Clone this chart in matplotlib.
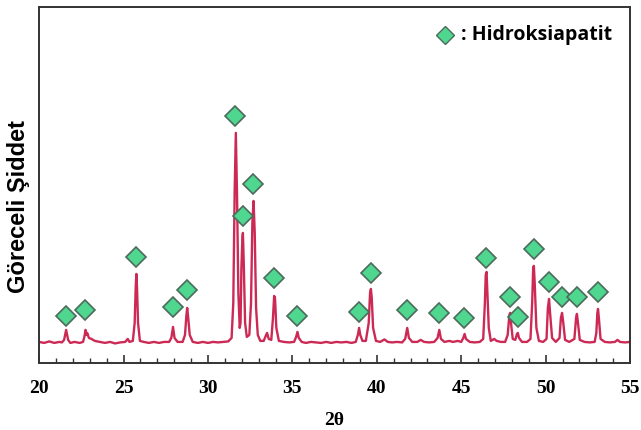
import numpy as np
import matplotlib
matplotlib.use('Agg')
import matplotlib.pyplot as plt
from matplotlib.ticker import MultipleLocator

# measured XRD trace (2theta, relative intensity)
two_theta = [
    20.0, 20.3, 20.6, 20.9, 21.2, 21.35, 21.48, 21.55, 21.6, 21.65, 21.72, 21.85,
    22.1, 22.4, 22.6, 22.68, 22.75, 22.8, 22.85, 22.95, 23.1, 23.3, 23.6, 23.9,
    24.2, 24.5, 24.8, 25.1, 25.25, 25.35, 25.55, 25.66, 25.72, 25.76, 25.8, 25.86,
    25.97, 26.2, 26.5, 26.8, 27.1, 27.4, 27.7, 27.83, 27.93, 28.02, 28.2, 28.5,
    28.64, 28.72, 28.77, 28.82, 28.92, 29.1, 29.4, 29.7, 30.0, 30.3, 30.6, 30.9,
    31.2, 31.4, 31.5, 31.58, 31.65, 31.72, 31.8, 31.88, 31.93, 31.98, 32.04, 32.07,
    32.12, 32.2, 32.3, 32.45, 32.55, 32.63, 32.7, 32.77, 32.85, 32.95, 33.1, 33.3,
    33.42, 33.5, 33.6, 33.75, 33.85, 33.92, 33.97, 34.05, 34.2, 34.5, 34.8, 35.1,
    35.22, 35.3, 35.38, 35.55, 35.8, 36.1, 36.4, 36.7, 37.0, 37.3, 37.6, 37.9,
    38.2, 38.5, 38.75, 38.88, 38.95, 39.02, 39.15, 39.35, 39.52, 39.6, 39.65, 39.7,
    39.78, 39.95, 40.2, 40.45, 40.65, 40.9, 41.2, 41.5, 41.68, 41.8, 41.9, 42.1,
    42.4, 42.6, 42.8, 43.1, 43.4, 43.6, 43.7, 43.8, 44.0, 44.3, 44.5, 44.8,
    45.0, 45.12, 45.2, 45.28, 45.5, 45.8, 46.1, 46.3, 46.4, 46.45, 46.5, 46.55,
    46.63, 46.75, 46.95, 47.1, 47.35, 47.6, 47.75, 47.85, 47.9, 47.96, 48.05, 48.2,
    48.3, 48.35, 48.42, 48.6, 48.9, 49.1, 49.2, 49.26, 49.3, 49.35, 49.45, 49.6,
    49.85, 50.05, 50.13, 50.2, 50.26, 50.38, 50.6, 50.82, 50.9, 50.97, 51.03, 51.15,
    51.4, 51.7, 51.8, 51.85, 51.9, 52.02, 52.3, 52.6, 52.9, 53.0, 53.06, 53.1,
    53.15, 53.25, 53.5, 53.8, 54.1, 54.25, 54.4, 54.7, 55.0,
]
intensity = [
    21, 20, 21.5, 20, 21, 20.5, 23, 29, 33, 29, 23, 20,
    21, 20, 21, 26, 33, 28, 30, 25, 24, 22, 21, 20,
    21, 19.5, 20.5, 21, 24, 21, 22, 40, 75, 89, 75, 40,
    22, 21, 20, 21, 20, 21, 21, 25, 36, 25, 21, 21,
    28, 47, 55, 47, 28, 21, 20, 21, 20, 21, 20.5, 21,
    21.5, 25, 60, 170, 230, 170, 70, 35, 40, 95, 125, 130,
    100, 40, 26, 28, 60, 140, 162, 130, 55, 28, 22, 22,
    27, 30, 24, 23, 45, 67, 65, 35, 22, 21, 20.5, 21,
    26, 31, 25, 21, 20, 21, 20.5, 20, 21, 20, 21, 20.5,
    21, 20, 21, 28, 35, 28, 22, 22, 40, 70, 74, 65,
    35, 22, 21, 23.5, 21, 20.5, 21, 20.5, 24, 35, 25, 21,
    21, 23, 21, 20.5, 21, 25, 33, 24, 21, 22, 21, 22,
    21, 25, 29, 24, 21, 20.5, 21, 24, 60, 88, 91, 70,
    35, 22, 24, 22, 21, 21, 28, 48, 50, 38, 24, 23,
    29, 30, 25, 21, 21, 24, 60, 95, 97, 80, 35, 22,
    21, 24, 55, 64, 50, 25, 21, 25, 45, 50, 42, 23,
    21, 24, 45, 49, 42, 23, 21, 20.5, 21, 30, 50, 54,
    45, 24, 21, 20.5, 21, 23, 21, 20.5, 21,
]

# hydroxyapatite reflections (marker positions)
ha_pos = [21.6, 22.72, 25.74, 27.93, 28.76, 31.6, 32.07, 32.66, 33.9, 35.27,
          38.93, 39.65, 41.77, 43.67, 45.15, 46.45, 47.87, 48.34, 49.3, 50.18,
          50.95, 51.83, 53.08]
ha_mark = [47, 53, 106, 56, 73, 247, 147, 179, 85, 47,
           51, 90, 53, 50, 45, 105, 66, 46, 114, 81,
           66, 66, 71]

line_col = '#cc2a55'
mark_face = '#4fd68f'
mark_edge = '#4d6b5c'

fig = plt.figure(figsize=(6.41, 4.30), dpi=100)
ax = fig.add_axes([0.061, 0.156, 0.922, 0.828])

ax.plot(two_theta, intensity, color=line_col, lw=1.7, solid_joinstyle='round')
ax.plot(ha_pos, ha_mark, ls='none', marker='D', ms=10.5,
        mfc=mark_face, mec=mark_edge, mew=1.2)

ax.set_xlim(20, 55)
ax.set_ylim(0, 356)
ax.set_yticks([])
ax.xaxis.set_major_locator(MultipleLocator(5))
ax.xaxis.set_minor_locator(MultipleLocator(1))
ax.tick_params(axis='x', which='major', direction='in', length=6, width=1.2,
               color='#333333', pad=12)
ax.tick_params(axis='x', which='minor', direction='in', length=3.5, width=1.0,
               color='#333333')
for lab in ax.get_xticklabels():
    lab.set_fontfamily('Liberation Serif')
    lab.set_fontweight('bold')
    lab.set_fontsize(14)
for sp in ax.spines.values():
    sp.set_color('#333333')
    sp.set_linewidth(1.4)

ax.set_xlabel('2θ', fontfamily='Liberation Serif', fontweight='bold',
              fontsize=14, labelpad=11)
ax.set_ylabel('Göreceli Şiddet', fontfamily='Liberation Sans', fontweight='bold',
              fontsize=17)
ax.yaxis.set_label_coords(-0.016, 0.44)

# legend
ax.plot([0.687], [0.921], transform=ax.transAxes, ls='none', marker='D', ms=9.5,
        mfc=mark_face, mec=mark_edge, mew=1.0, clip_on=False)
ax.text(0.714, 0.921, ': Hidroksiapatit', transform=ax.transAxes,
        fontfamily='Open Sans', fontweight='bold', fontsize=14,
        va='center', ha='left')

fig.savefig('out.png', dpi=100)
